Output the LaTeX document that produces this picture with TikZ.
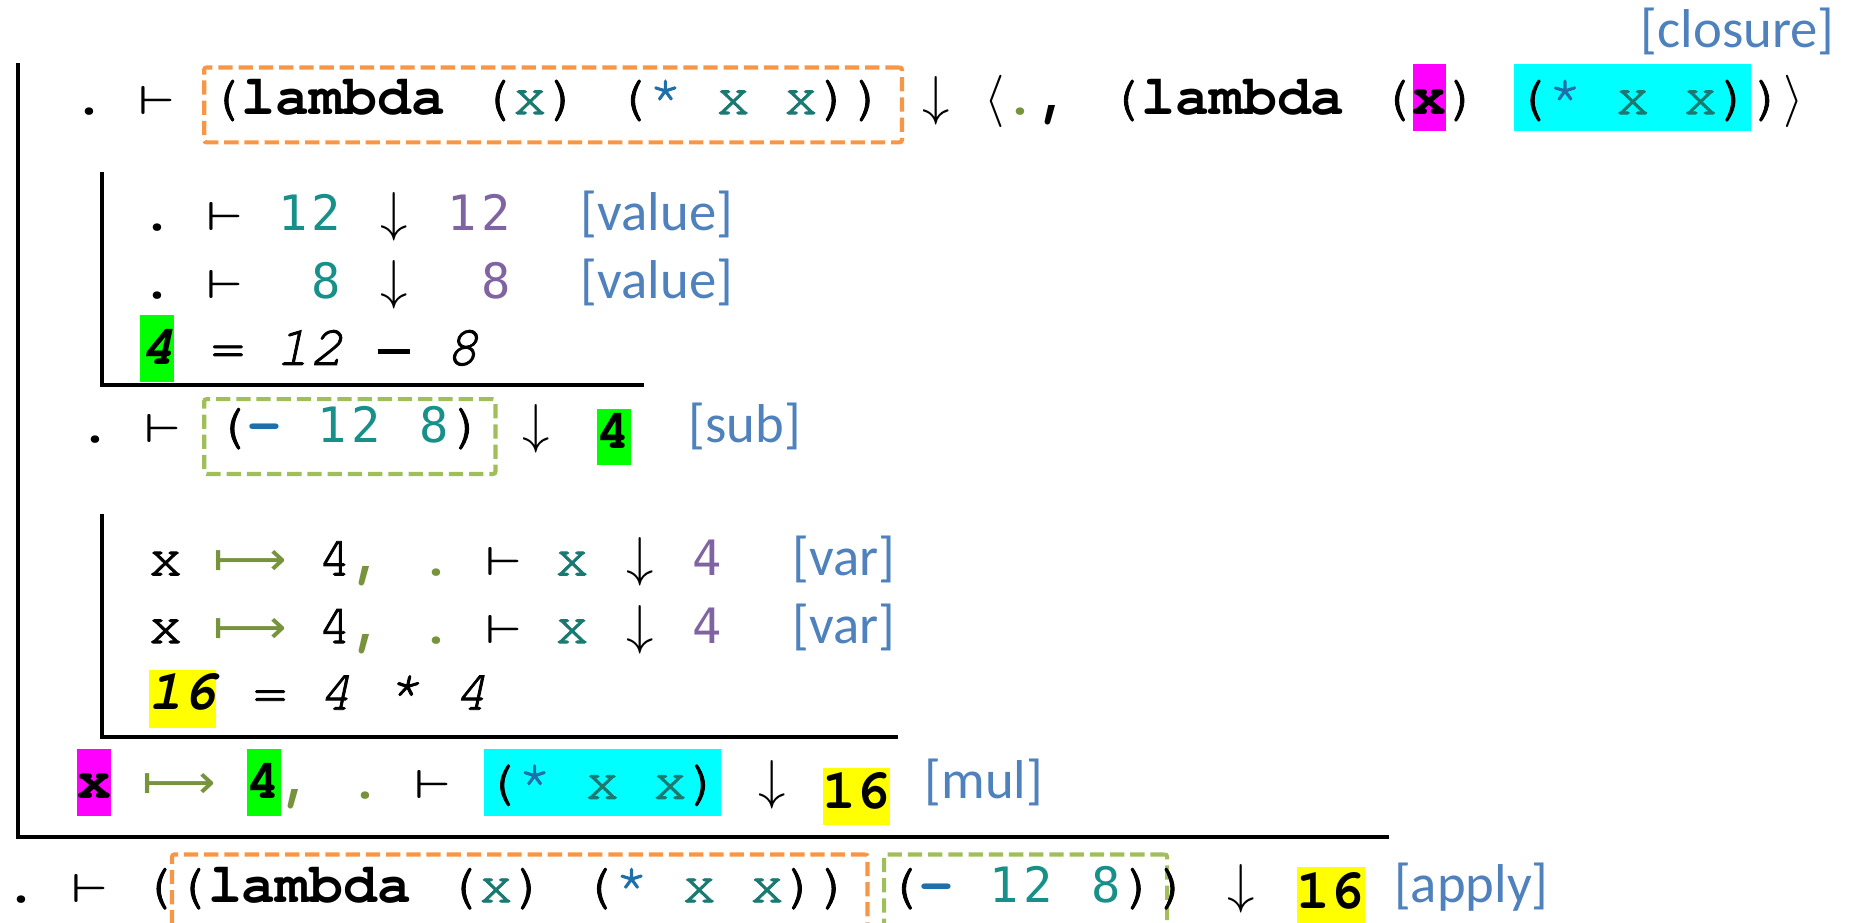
\documentclass[tikz,border=0pt]{standalone}
\usepackage{fontspec}
\usepackage{graphicx}
\newfontfamily\mono[UprightFeatures={FakeBold=1.5},ItalicFeatures={FakeBold=1.5}]{TeX Gyre Cursor}
\newfontfamily\dig{DejaVu Sans Mono}
\newfontfamily\djv{DejaVu Sans}
\newfontfamily\lab{Carlito}
\definecolor{tealx}{RGB}{26,122,114}
\definecolor{tealn}{RGB}{22,144,136}
\definecolor{starblue}{RGB}{31,112,170}
\definecolor{purp}{RGB}{128,100,162}
\definecolor{labblue}{RGB}{79,129,189}
\definecolor{oliv}{RGB}{119,147,60}
\definecolor{dorange}{RGB}{247,150,70}
\definecolor{dgreen}{RGB}{160,190,90}
\definecolor{hlmag}{RGB}{255,0,255}
\definecolor{hlcyan}{RGB}{0,255,255}
\definecolor{hlgreen}{RGB}{0,255,0}
\definecolor{hlyellow}{RGB}{255,255,0}
\newcommand\cell[1]{\makebox[28.5pt]{#1}}
\newcommand\VD{\cell{\scalebox{4.4}[3.4]{\normalsize\boldmath$\vdash$}}}
\newcommand\DA{\cell{\scalebox{4.6}{\normalsize$\downarrow$}}}
\newcommand\MT{\makebox[57pt]{\color{oliv}\djv\fontsize{40pt}{46pt}\selectfont\iffontchar\font"27FC \scalebox{1.08}[1]{⟼}\else\scalebox{3.1}[3.7]{\normalsize\boldmath$\longmapsto$}\fi}}
\newcommand\MINUS{\cell{\rule[9pt]{27pt}{4.5pt}}}
\newcommand\dg[1]{\cell{\dig\fontsize{41pt}{48pt}\selectfont #1}}
\newcommand\hl[4]{{\setlength\fboxsep{0pt}\colorbox{#1}{\rule[-#3]{0pt}{\dimexpr#2+#3\relax}#4}}}
\begin{document}
\begin{tikzpicture}[x=1pt,y=-1pt,
  row/.style={anchor=base west, inner sep=0pt, outer sep=0pt, font=\mono\fontsize{47.5pt}{57pt}\selectfont\frenchspacing},
  lbl/.style={anchor=base west, inner sep=0pt, text=labblue, font=\lab\fontsize{46pt}{55pt}\selectfont},
  obox/.style={draw=dorange, dash pattern=on 12pt off 5pt, line width=3.5pt, rounded corners=2pt, anchor=north west, inner sep=0pt},
  gbox/.style={draw=dgreen, dash pattern=on 12pt off 5pt, line width=3.5pt, rounded corners=2pt, anchor=north west, inner sep=0pt},
  ruleline/.style={line width=3.5pt}]
\useasboundingbox (0,0) rectangle (1568,776);

% ---------- rules ----------
\coordinate (o1) at (15,53); \coordinate (o2) at (15,704); \coordinate (o3) at (1168,704);
\coordinate (a1) at (86,145); \coordinate (a2) at (86,324); \coordinate (a3) at (542,324);
\coordinate (b1) at (86,432); \coordinate (b2) at (86,620); \coordinate (b3) at (755,620);
\draw[ruleline] (o1) -- (o2) -- (o3);
\draw[ruleline] (a1) -- (a2) -- (a3);
\draw[ruleline] (b1) -- (b2) -- (b3);

% ---------- dashed boxes ----------
\node[obox, minimum width=587pt, minimum height=63pt] (box1) at (170,55) {};
\node[gbox, minimum width=245pt, minimum height=63pt] (box2) at (170,334) {};
\node[obox, minimum width=585pt, minimum height=64pt] (box3) at (143,717) {};
\node[gbox, minimum width=238pt, minimum height=64pt] (box4) at (742,717) {};

% ---------- row 1: closure ----------
\node[lbl] (lclos) at (1380,40) {[closure]};
\node[row] (r1a) at (61,96) {\cell{\textbf{.}}\cell{}\VD};
\node[row] (r1b) at (175,96) {(\textbf{lambda} (\textcolor{tealx}{x}) (\textcolor{starblue}{*} \textcolor{tealx}{x} \textcolor{tealx}{x}))};
\node[row] (r1c) at (773.5,96) {\DA};
\node[row, anchor=base] (r1d) at (837,96) {\scalebox{4.4}{\normalsize$\langle$}};
\node[row] (r1e) at (844,96) {\cell{\textcolor{oliv}{\textbf{.}}}\cell{\textbf{,}}};
\node[row] (r1f) at (931.75,96) {(\textbf{lambda} (\hl{hlmag}{42pt}{14pt}{\textbf{x}}) \hl{hlcyan}{42pt}{14pt}{(\textcolor{starblue}{*} \textcolor{tealx}{x} \textcolor{tealx}{x})})};
\node[row, anchor=base] (r1g) at (1509,96) {\scalebox{4.4}{\normalsize$\rangle$}};

% ---------- sub-derivation: value ----------
\node[row] (v1) at (118,193.5) {\cell{\textbf{.}}\cell{}\VD\cell{}\textcolor{tealn}{\dg1\dg2}\cell{}\DA\cell{}\textcolor{purp}{\dg1\dg2}};
\node[lbl] (lv1) at (488.5,193.5) {[value]};
\node[row] (v2) at (118,251) {\cell{\textbf{.}}\cell{}\VD\cell{}\cell{}\textcolor{tealn}{\dg8}\cell{}\DA\cell{}\cell{}\textcolor{purp}{\dg8}};
\node[lbl] (lv2) at (488.5,251) {[value]};
\node[row] (v3) at (118,307) {\itshape\hl{hlgreen}{42pt}{14pt}{\bfseries 4} = 12 \MINUS{} 8};

% ---------- sub row ----------
\node[row] (s1) at (66,372) {\cell{\textbf{.}}\cell{}\VD};
\node[row] (s2) at (180,372) {(\textcolor{starblue}{\textbf{-}} \textcolor{tealn}{\dg1\dg2} \textcolor{tealn}{\dg8})};
\node[row] (s3) at (436.5,372) {\DA};
\node[row] (s4) at (502,377) {\hl{hlgreen}{33pt}{14pt}{\textbf{4}}};
\node[lbl] (ls) at (579,372) {[sub]};

% ---------- sub-derivation: var ----------
\node[row] (w1) at (125,484) {\cell{x}\cell{}\MT\cell{}\cell{4}\textcolor{oliv}{\cell{\textbf{,}}}\cell{}\textcolor{oliv}{\cell{\textbf{.}}}\cell{}\VD\cell{}\textcolor{tealx}{\cell{x}}\cell{}\DA\cell{}\textcolor{purp}{\dg4}};
\node[lbl] (lw1) at (666.5,484) {[var]};
\node[row] (w2) at (125,541) {\cell{x}\cell{}\MT\cell{}\cell{4}\textcolor{oliv}{\cell{\textbf{,}}}\cell{}\textcolor{oliv}{\cell{\textbf{.}}}\cell{}\VD\cell{}\textcolor{tealx}{\cell{x}}\cell{}\DA\cell{}\textcolor{purp}{\dg4}};
\node[lbl] (lw2) at (666.5,541) {[var]};
\node[row] (w3) at (125,597) {\itshape\hl{hlyellow}{33pt}{15pt}{\bfseries 16} = 4 * 4};

% ---------- mul row ----------
\node[row] (m1) at (65,672) {\hl{hlmag}{42pt}{14pt}{\textbf{x}}\cell{}\MT\cell{}\hl{hlgreen}{42pt}{14pt}{\textbf{4}}\textcolor{oliv}{\cell{\textbf{,}}}\cell{}\textcolor{oliv}{\cell{\textbf{.}}}\cell{}\VD\cell{}\hl{hlcyan}{42pt}{14pt}{(\textcolor{starblue}{*} \textcolor{tealx}{x} \textcolor{tealx}{x})}\cell{}\DA};
\node[row] (m2) at (692,680) {\hl{hlyellow}{34pt}{14pt}{\textbf{16}}};
\node[lbl] (lm) at (777.5,672) {[mul]};

% ---------- final row ----------
\node[row] (f1) at (4,759) {\cell{\textbf{.}}\cell{}\VD\cell{}\cell{(}};
\node[row] (f2) at (146.5,759) {(\textbf{lambda} (\textcolor{tealx}{x}) (\textcolor{starblue}{*} \textcolor{tealx}{x} \textcolor{tealx}{x}))};
\node[row] (f3) at (745,759) {(\textcolor{starblue}{\textbf{-}} \textcolor{tealn}{\dg1\dg2} \textcolor{tealn}{\dg8})};
\node[row] (f4) at (973,759) {\cell{)}\cell{}\DA};
\node[row] (f5) at (1091,764) {\hl{hlyellow}{35pt}{14pt}{\textbf{16}}};
\node[lbl] (la) at (1172.5,759) {[apply]};
\end{tikzpicture}
\end{document}
